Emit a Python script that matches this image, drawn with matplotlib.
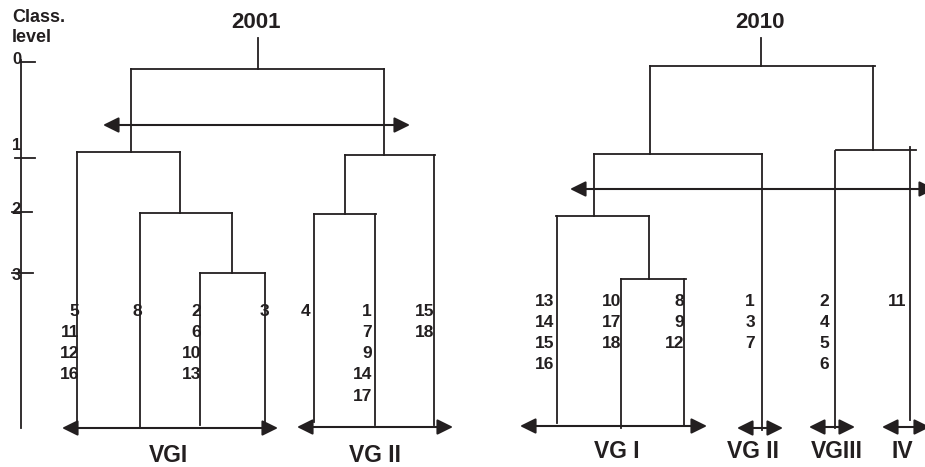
"""Cluster dendrograms of village groups, 2001 vs 2010."""

import matplotlib.pyplot as plt
from matplotlib.patches import FancyArrowPatch

INK = "#231f20"
FONT = "Liberation Sans"

# class-level axis (left)
LEVELS = ["0", "1", "2", "3"]
LEVEL_Y = [62, 158, 212, 273]
LEVEL_LABEL_Y = [60, 146, 210, 275]
LEVEL_TICK_X = [(20, 35), (15, 35), (12, 32), (12, 33)]

YEARS = ["2001", "2010"]
YEAR_X = [256, 760]

# ---- 2001 ----
# merges: (bar y, bar left, bar right, stem x, stem top)
MERGES_2001 = [
    (69, 131, 384, 258, 38),
    (152, 77, 180, 131, 69),
    (213, 140, 232, 180, 152),
    (273, 200, 265, 232, 213),
    (155, 345, 435, 384, 69),
    (214, 314, 376, 345, 155),
]
LEAF_X_2001 = [77, 140, 200, 265, 314, 375, 434]
LEAF_TOP_2001 = [152, 213, 273, 273, 214, 214, 155]
LEAF_BOTTOM_2001 = [428, 428, 425, 428, 422, 425, 425]
LABEL_X_2001 = [79, 142, 201, 269, 310, 372, 434]
MEMBERS_2001 = [
    ["5", "11", "12", "16"],
    ["8"],
    ["2", "6", "10", "13"],
    ["3"],
    ["4"],
    ["1", "7", "9", "14", "17"],
    ["15", "18"],
]
GROUPS_2001 = ["VGI", "VG II"]
GROUP_SPAN_2001 = [(62, 278, 428), (297, 453, 427)]
GROUP_LABEL_X_2001 = [168, 375]
WIDE_ARROW_2001 = (103, 410, 125)

# ---- 2010 ----
MERGES_2010 = [
    (66, 650, 875, 761, 38),
    (154, 594, 762, 650, 66),
    (150, 836, 916, 873, 66),
    (216, 556, 649, 594, 154),
    (279, 621, 686, 649, 216),
]
LEAF_X_2010 = [557, 621, 684, 762, 835, 910]
LEAF_TOP_2010 = [216, 279, 279, 154, 151, 147]
LEAF_BOTTOM_2010 = [423, 428, 425, 430, 428, 420]
LABEL_X_2010 = [554, 621, 684, 755, 829, 906]
MEMBERS_2010 = [
    ["13", "14", "15", "16"],
    ["10", "17", "18"],
    ["8", "9", "12"],
    ["1", "3", "7"],
    ["2", "4", "5", "6"],
    ["11"],
]
GROUPS_2010 = ["VG I", "VG II", "VGIII", "IV"]
GROUP_SPAN_2010 = [(520, 707, 426), (737, 783, 428), (809, 855, 427), (882, 930, 427)]
GROUP_LABEL_X_2010 = [617, 753, 837, 902]
WIDE_ARROW_2010 = (570, 935, 189)


def double_arrow(ax, x0, x1, y):
    arr = FancyArrowPatch(
        (x0, y), (x1, y),
        arrowstyle="<|-|>,head_length=0.95,head_width=0.47",
        mutation_scale=10, shrinkA=0, shrinkB=0,
        color=INK, lw=1.5,
    )
    ax.add_patch(arr)


def draw_panel(ax, merges, leaf_x, leaf_top, leaf_bottom, label_x, members,
               groups, spans, group_x, wide, label_y0, group_y):
    for bar_y, x0, x1, stem_x, stem_top in merges:
        ax.plot([x0, x1], [bar_y, bar_y], color=INK, lw=1.3)
        ax.plot([stem_x, stem_x], [stem_top, bar_y], color=INK, lw=1.3)
    for x, top, bottom in zip(leaf_x, leaf_top, leaf_bottom):
        ax.plot([x, x], [top, bottom], color=INK, lw=1.3)
    for lx, names in zip(label_x, members):
        for i, name in enumerate(names):
            ax.text(lx, label_y0 + i * 21.3, name, ha="right", va="center",
                    fontsize=12.5, fontweight="bold", family=FONT, color=INK)
    for name, (x0, x1, y), gx in zip(groups, spans, group_x):
        double_arrow(ax, x0, x1, y)
        ax.text(gx, group_y, name, ha="center", va="center",
                fontsize=16.5, fontweight="bold", family=FONT, color=INK)
    double_arrow(ax, *wide)


fig = plt.figure(figsize=(9.25, 4.67), dpi=100)
ax = fig.add_axes([0, 0, 1, 1])
ax.set_xlim(0, 925)
ax.set_ylim(467, 0)
ax.axis("off")

# class level axis
ax.text(12, 18, "Class.", ha="left", va="center", fontsize=13,
        fontweight="bold", family=FONT, color=INK)
ax.text(12, 38, "level", ha="left", va="center", fontsize=13,
        fontweight="bold", family=FONT, color=INK)
ax.plot([21, 21], [60, 428], color=INK, lw=1.3)
for lab, y, ly, (tx0, tx1) in zip(LEVELS, LEVEL_Y, LEVEL_LABEL_Y, LEVEL_TICK_X):
    ax.plot([tx0, tx1], [y, y], color=INK, lw=1.3)
    ax.text(16.5, ly, lab, ha="center", va="center",
            fontsize=12, fontweight="bold", family=FONT, color=INK)

for year, x in zip(YEARS, YEAR_X):
    ax.text(x, 22, year, ha="center", va="center", fontsize=16,
            fontweight="bold", family=FONT, color=INK)

draw_panel(ax, MERGES_2001, LEAF_X_2001, LEAF_TOP_2001, LEAF_BOTTOM_2001,
           LABEL_X_2001, MEMBERS_2001, GROUPS_2001, GROUP_SPAN_2001,
           GROUP_LABEL_X_2001, WIDE_ARROW_2001, 311, 455)
draw_panel(ax, MERGES_2010, LEAF_X_2010, LEAF_TOP_2010, LEAF_BOTTOM_2010,
           LABEL_X_2010, MEMBERS_2010, GROUPS_2010, GROUP_SPAN_2010,
           GROUP_LABEL_X_2010, WIDE_ARROW_2010, 301, 452)

fig.savefig("out.png", dpi=100)
